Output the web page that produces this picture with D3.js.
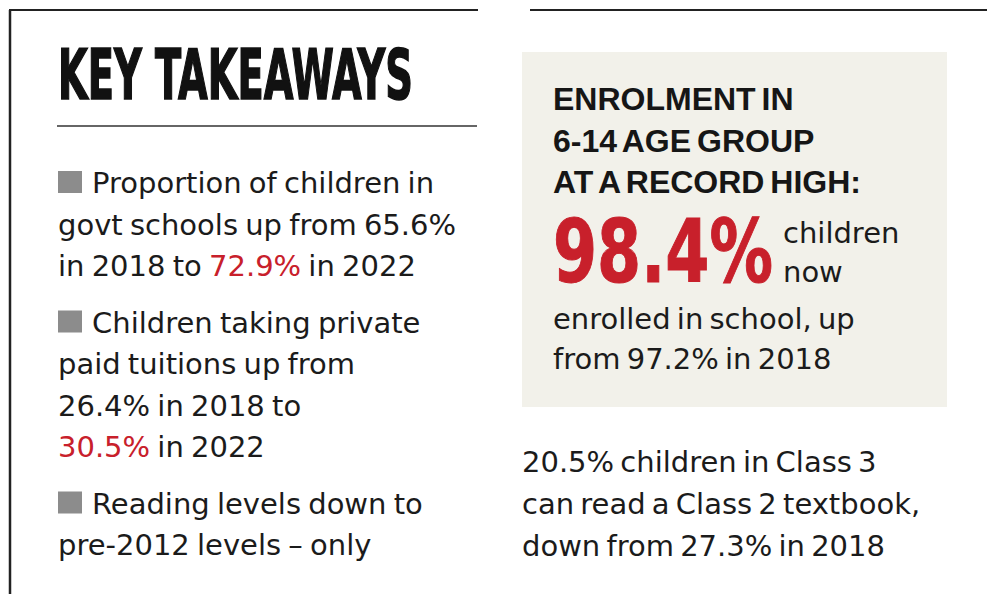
<!DOCTYPE html>
<html>
<head>
<meta charset="utf-8">
<script src="https://cdn.jsdelivr.net/npm/d3@7"></script>
<style>
  html, body { margin: 0; padding: 0; background: #ffffff; }
  svg { display: block; }
</style>
</head>
<body>
<svg id="chart" width="987" height="594"></svg>
<script>
// ---------- data ----------
const title = "KEY TAKEAWAYS";

// each takeaway: list of lines; each line: list of [text, highlight]
const takeaways = [
  [
    [["Proportion of children in", false]],
    [["govt schools up from 65.6%", false]],
    [["in 2018 to ", false], ["72.9%", true], [" in 2022", false]]
  ],
  [
    [["Children taking private", false]],
    [["paid tuitions up from", false]],
    [["26.4% in 2018 to", false]],
    [["30.5%", true], [" in 2022", false]]
  ],
  [
    [["Reading levels down to", false]],
    [["pre-2012 levels \u2013 only", false]]
  ]
];

const boxHeading = ["ENROLMENT IN", "6-14 AGE GROUP", "AT A RECORD HIGH:"];
const bigValue = "98.4%";
const bigSide = ["children", "now"];
const boxBody = ["enrolled in school, up", "from 97.2% in 2018"];
const footnote = ["20.5% children in Class 3", "can read a Class 2 textbook,", "down from 27.3% in 2018"];

// ---------- styles ----------
const W = 987, H = 594;
const ink = "#1b1b1b";
const red = "#c8202b";
const grey = "#8c8c8c";
const beige = "#f2f1ea";
const bodyFont = "'DejaVu Sans', 'Noto Sans', sans-serif";
const boldFont = "'Liberation Sans', Arial, sans-serif";
const condFont = "'Liberation Sans Narrow', 'DejaVu Sans Condensed', 'DejaVu Sans', sans-serif";

const svg = d3.select("#chart");
svg.append("rect").attr("width", W).attr("height", H).attr("fill", "#fff");

// frame lines
svg.append("line").attr("x1", 10).attr("x2", 10).attr("y1", 10).attr("y2", H)
  .attr("stroke", "#222").attr("stroke-width", 2.5);
svg.append("line").attr("x1", 9).attr("x2", 478).attr("y1", 10).attr("y2", 10)
  .attr("stroke", "#222").attr("stroke-width", 2);
svg.append("line").attr("x1", 530).attr("x2", W).attr("y1", 10).attr("y2", 10)
  .attr("stroke", "#222").attr("stroke-width", 2);

// helper: draw text squeezed horizontally to a target width via a scale transform
function squeezed(parent, str, x, y, targetW, attrs) {
  const g = parent.append("g");
  const t = g.append("text").attr("x", 0).attr("y", 0).text(str);
  Object.entries(attrs).forEach(([k, v]) => t.attr(k, v));
  const natural = t.node().getComputedTextLength();
  const k = targetW / natural;
  g.attr("transform", `translate(${x},${y}) scale(${k},1)`);
  return g;
}

// ---------- left column ----------
squeezed(svg, title, 58, 99, 355, {
  "font-family": condFont, "font-weight": 700, "font-size": 69,
  "fill": "#111", "stroke": "#111", "stroke-width": 1.6
});

svg.append("line").attr("x1", 57).attr("x2", 477).attr("y1", 126).attr("y2", 126)
  .attr("stroke", "#333").attr("stroke-width", 1.5);

// flatten lines with group/line indices
const flat = [];
takeaways.forEach((g, gi) => g.forEach((ln, li) => flat.push({gi, li, segs: ln})));
const lineStep = 41.5, groupGap = 15;
const yLeft = d3.scaleLinear().domain([0, 1]).range([193, 193 + lineStep]);
flat.forEach((d, i) => { d.y = yLeft(i) + d.gi * groupGap; });

const leftG = svg.append("g");
// bullet squares
leftG.selectAll("rect.bullet")
  .data(flat.filter(d => d.li === 0))
  .join("rect")
  .attr("class", "bullet")
  .attr("x", 58).attr("y", d => d.y - 22)
  .attr("width", 24).attr("height", 22)
  .attr("fill", grey);

const lt = leftG.selectAll("text.line")
  .data(flat)
  .join("text")
  .attr("class", "line")
  .attr("x", d => d.li === 0 ? 92 : 58)
  .attr("y", d => d.y)
  .attr("font-family", bodyFont)
  .attr("font-size", 29)
  .attr("word-spacing", -2)
  .attr("fill", ink);
lt.selectAll("tspan")
  .data(d => d.segs)
  .join("tspan")
  .attr("fill", s => s[1] ? red : ink)
  .text(s => s[0]);

// ---------- right column ----------
svg.append("rect").attr("x", 522).attr("y", 52).attr("width", 425).attr("height", 355)
  .attr("fill", beige);

const yHead = d3.scaleLinear().domain([0, 1]).range([110, 151.7]);
svg.selectAll("text.head")
  .data(boxHeading)
  .join("text")
  .attr("class", "head")
  .attr("x", 553)
  .attr("y", (d, i) => yHead(i))
  .attr("font-family", boldFont)
  .attr("font-weight", 700)
  .attr("font-size", 32)
  .attr("word-spacing", -3)
  .attr("fill", "#161616")
  .text(d => d);

squeezed(svg, bigValue, 553, 282, 220, {
  "font-family": condFont, "font-weight": 700, "font-size": 88,
  "fill": red, "stroke": red, "stroke-width": 1
});

const ySide = d3.scaleLinear().domain([0, 1]).range([243, 282]);
svg.selectAll("text.side")
  .data(bigSide)
  .join("text")
  .attr("class", "side")
  .attr("x", 783)
  .attr("y", (d, i) => ySide(i))
  .attr("font-family", bodyFont)
  .attr("font-size", 29)
  .attr("fill", ink)
  .text(d => d);

const yBody = d3.scaleLinear().domain([0, 1]).range([328.5, 369]);
svg.selectAll("text.body")
  .data(boxBody)
  .join("text")
  .attr("class", "body")
  .attr("x", 553)
  .attr("y", (d, i) => yBody(i))
  .attr("font-family", bodyFont)
  .attr("font-size", 29)
  .attr("word-spacing", -3)
  .attr("fill", ink)
  .text(d => d);

const yFoot = d3.scaleLinear().domain([0, 1]).range([472, 514]);
svg.selectAll("text.foot")
  .data(footnote)
  .join("text")
  .attr("class", "foot")
  .attr("x", 522)
  .attr("y", (d, i) => yFoot(i))
  .attr("font-family", bodyFont)
  .attr("font-size", 29)
  .attr("word-spacing", -3)
  .attr("fill", ink)
  .text(d => d);
</script>
</body>
</html>
